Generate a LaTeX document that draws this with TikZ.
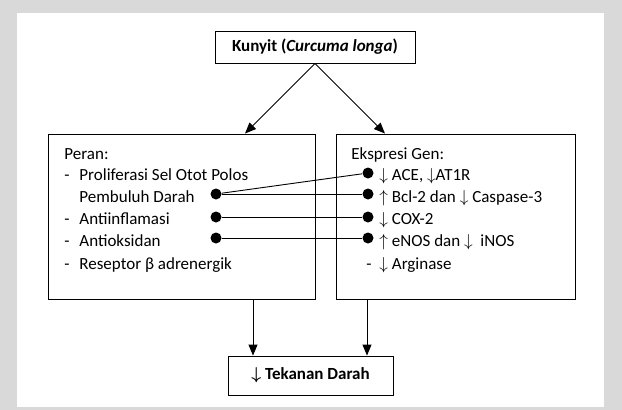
\documentclass[tikz,border=0pt]{standalone}
\usepackage{fontspec}
\setmainfont{Carlito}
\usepackage{amsmath}
\usetikzlibrary{arrows.meta}
\definecolor{bggray}{HTML}{D9D9D9}

\begin{document}
\begin{tikzpicture}[x=1pt, y=-1pt, line width=0.9pt, font=\fontsize{17}{19}\selectfont,
		box/.style={rectangle,draw,inner sep=0pt},
		item/.style={anchor=base west,inner sep=0pt},
		dot/.style={circle,fill,inner sep=0pt,minimum size=11pt},
		>={Triangle[length=11pt,width=9pt]}]
		\fill[bggray] (0, 0) rectangle (622, 410);
		\fill[white] (17, 13) rectangle (604, 407);

		\node[box,minimum width=200pt,minimum height=32pt] (kunyit) at (315, 47) {\textbf{Kunyit (\textit{Curcuma longa})}};
		\node[box,minimum width=267pt,minimum height=165pt] (kiri) at (181.5, 216.5) {};
		\node[box,minimum width=239pt,minimum height=165pt] (kanan) at (455.5, 216.5) {};
		\node[box,minimum width=165pt,minimum height=39pt] (tekanan) at (310.5, 375.5) {\textbf{$\boldsymbol{\downarrow}$ Tekanan Darah}};

		% peran
		\node[item] (peran) at (64, 159) {Peran:};
		\node[item] (prolif) at (64, 180) {\makebox[15pt][l]{-}Proliferasi Sel Otot Polos};
		\node[item] (pembuluh) at (79, 202) {Pembuluh Darah};
		\node[item] (antiinf) at (64, 224) {\makebox[15pt][l]{-}Antiinflamasi};
		\node[item] (antioks) at (64, 246) {\makebox[15pt][l]{-}Antioksidan};
		\node[item] (reseptor) at (64, 269) {\makebox[15pt][l]{-}Reseptor β adrenergik};

		% ekspresi gen
		\node[item] (ekspresi) at (351, 159) {Ekspresi Gen:};
		\node[item] (ace) at (379, 180) {$\downarrow$ ACE, $\downarrow$AT1R};
		\node[item] (bcl) at (379, 202) {$\uparrow$ Bcl-2 dan $\downarrow$ Caspase-3};
		\node[item] (cox) at (379, 224) {$\downarrow$ COX-2};
		\node[item] (enos) at (379, 246) {$\uparrow$ eNOS dan $\downarrow$\ \ iNOS};
		\node[item] (arginase) at (366, 269) {\makebox[13pt][l]{-}$\downarrow$ Arginase};

		\node[dot] (dpem) at (216, 194) {};
		\node[dot] (dinf) at (216, 217) {};
		\node[dot] (doks) at (216, 238) {};
		\node[dot] (dace) at (368, 173) {};
		\node[dot] (dbcl) at (368, 194) {};
		\node[dot] (dcox) at (368, 217) {};
		\node[dot] (denos) at (368, 238) {};

		\draw (dpem) -- (dace);
		\draw (dpem) -- (dbcl);
		\draw (dinf) -- (dcox);
		\draw (doks) -- (denos);

		\draw[->] (kunyit.south) -- ([xshift=63.5pt]kiri.north);
		\draw[->] (kunyit.south) -- ([xshift=-70.5pt]kanan.north);
		\draw[->] ([xshift=71.5pt]kiri.south) -- ([xshift=71.5pt]kiri.south |- tekanan.north);
		\draw[->] ([xshift=-88.5pt]kanan.south) -- ([xshift=-88.5pt]kanan.south |- tekanan.north);
\end{tikzpicture}
\end{document}
